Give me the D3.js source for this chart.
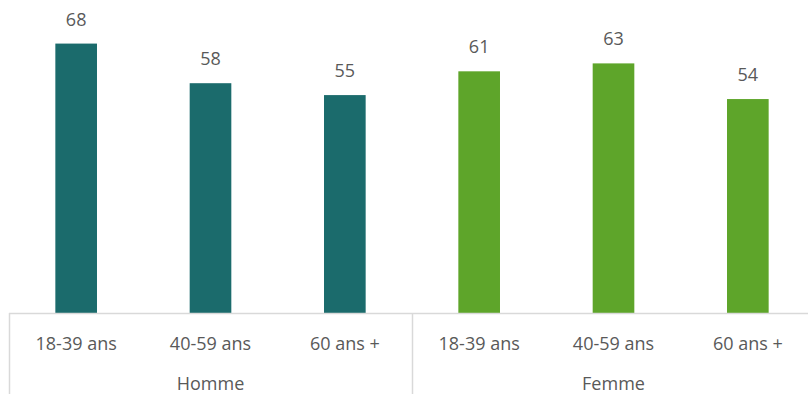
<!DOCTYPE html>
<html><head><meta charset="utf-8">
<script src="https://cdn.jsdelivr.net/npm/d3@7"></script>
<style>body{margin:0;background:#fff}svg{display:block}text{font-family:"Open Sans",sans-serif;fill:#595959}</style>
</head><body>
<script>
const groups = ["Homme", "Femme"];
const ageCats = ["18-39 ans", "40-59 ans", "60 ans +"];
const hommeValues = [68, 58, 55];
const femmeValues = [61, 63, 54];
const groupColors = ["#1B6B6C", "#5EA52A"];

const W = 808, H = 394;
const data = [];
[hommeValues, femmeValues].forEach((vals, gi) => vals.forEach((v, i) =>
  data.push({group: groups[gi], gi, cat: ageCats[i], key: groups[gi] + "|" + ageCats[i], value: v})));

const svg = d3.select("body").append("svg").attr("width", W).attr("height", H);
const x0 = 9, x1 = 815, base = 313;
const x = d3.scaleBand().domain(data.map(d => d.key)).range([x0, x1]).paddingInner(0.69).paddingOuter(0.345);
const y = d3.scaleLinear().domain([0, 79]).range([base, 0]);

svg.selectAll("rect.bar").data(data).join("rect").attr("class", "bar")
  .attr("x", d => x(d.key)).attr("width", x.bandwidth())
  .attr("y", d => y(d.value)).attr("height", d => y(0) - y(d.value))
  .attr("fill", d => groupColors[d.gi]);

svg.selectAll("text.val").data(data).join("text").attr("class", "val")
  .attr("x", d => x(d.key) + x.bandwidth() / 2).attr("y", d => y(d.value) - 18)
  .attr("text-anchor", "middle").style("font-size", "18px").text(d => d.value);

// axis line and separators
svg.append("line").attr("x1", x0).attr("x2", W).attr("y1", base + 0.5).attr("y2", base + 0.5)
  .attr("stroke", "#d9d9d9").attr("stroke-width", 1.5);
const groupWidth = (x1 - x0) / groups.length;
[0, 1, 2].forEach(i => {
  const sx = Math.round(x0 + i * groupWidth) + 0.5;
  svg.append("line").attr("x1", sx).attr("x2", sx).attr("y1", base).attr("y2", H)
    .attr("stroke", "#d9d9d9").attr("stroke-width", 1.5);
});

svg.selectAll("text.cat").data(data).join("text").attr("class", "cat")
  .attr("x", d => x(d.key) + x.bandwidth() / 2).attr("y", 350)
  .attr("text-anchor", "middle").style("font-size", "18px").text(d => d.cat);

svg.selectAll("text.grp").data(groups).join("text").attr("class", "grp")
  .attr("x", (d, i) => x0 + (i + 0.5) * groupWidth).attr("y", 390)
  .attr("text-anchor", "middle").style("font-size", "18px").text(d => d);
</script>
</body></html>
